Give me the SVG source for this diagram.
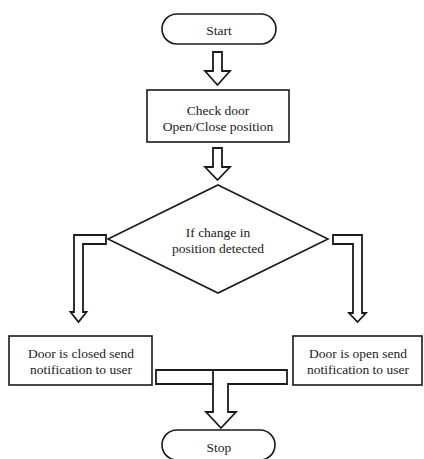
<svg xmlns="http://www.w3.org/2000/svg" width="424" height="459" viewBox="0 0 424 459">
<style>
.shape{fill:#fff;stroke:#1a1a1a;stroke-width:1.6}
.conn{fill:#fff;stroke:#1a1a1a;stroke-width:1.8;stroke-linejoin:miter}
.t{font-family:"Liberation Serif","Times New Roman",serif;font-size:13.5px;fill:#222;text-anchor:middle}
</style>
<rect width="424" height="459" fill="#fff"/>
<g id="connectors">
<polygon class="conn" points="213,52 222,52 222,71 230,71 217.5,85 205,71 213,71"/>
<polygon class="conn" points="213,148 222,148 222,167 230,167 217.5,180 205,167 213,167"/>
<polygon class="conn" points="106,235 74,235 74,312 70.5,312 78.5,322 86.5,312 83,312 83,244 106,244"/>
<polygon class="conn" points="333,235 362,235 362,313 366,313 357.5,322 349,313 353,313 353,244 333,244"/>
<polygon class="conn" points="156,370 287,370 287,384 228,384 228,412 236,412 221,428 206,412 213,412 213,384 156,384"/>
<line class="conn" x1="213" y1="370" x2="213" y2="384"/>
</g>
<g id="start">
<rect class="shape" x="162" y="14" width="114" height="30" rx="15" ry="15"/>
<text class="t" x="219" y="35">Start</text>
</g>
<g id="check">
<rect class="shape" x="147" y="90" width="142" height="52"/>
<text class="t" x="218" y="115">Check door</text>
<text class="t" x="218" y="131">Open/Close position</text>
</g>
<g id="decision">
<polygon class="shape" points="218,185 328,239 218,293 108,239"/>
<text class="t" x="218" y="237">If change in</text>
<text class="t" x="218" y="253">position detected</text>
</g>
<g id="closed">
<rect class="shape" x="9" y="336" width="143" height="49"/>
<text class="t" x="81" y="358">Door is closed send</text>
<text class="t" x="81" y="374">notification to user</text>
</g>
<g id="open">
<rect class="shape" x="293" y="336" width="129" height="49"/>
<text class="t" x="358" y="358">Door is open send</text>
<text class="t" x="358" y="374">notification to user</text>
</g>
<g id="stop">
<rect class="shape" x="162" y="430" width="113" height="30" rx="15" ry="15"/>
<text class="t" x="219" y="452">Stop</text>
</g>
</svg>
